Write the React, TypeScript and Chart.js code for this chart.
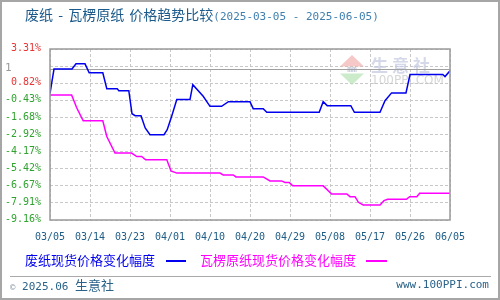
import React, { useEffect, useRef } from 'react';
import { Chart, registerables } from 'chart.js';

Chart.register(...registerables);

// ---- data ----
const xLabels = ['03/05', '03/14', '03/23', '04/01', '04/10', '04/20', '04/29', '05/08', '05/17', '05/26', '06/05'];

// 废纸现货价格变化幅度 (x in index units 0..100, y in %)
const wasteX = [0, 0.4, 1, 5.5, 6.5, 8.75, 9.8, 13.2, 14.2, 16.8, 17.2, 19.7, 20.5, 21.3, 22.75, 23.8, 25, 28.5, 29.3, 30.4, 31.7, 35, 35.7, 38.3, 40, 42.9, 44.6, 50, 50.8, 53.3, 54.2, 67.3, 68.3, 69.3, 75.2, 76.1, 82.5, 83.75, 85.4, 89, 90, 98.2, 98.75, 100];
const wasteY = [0.06, 0.79, 1.85, 1.85, 2.23, 2.23, 1.57, 1.57, 0.42, 0.42, 0.27, 0.27, -1.41, -1.55, -1.55, -2.45, -2.94, -2.94, -2.58, -1.61, -0.38, -0.38, 0.71, -0.14, -0.87, -0.87, -0.53, -0.53, -1.04, -1.04, -1.31, -1.31, -0.53, -0.82, -0.82, -1.31, -1.31, -0.46, 0.11, 0.11, 1.45, 1.45, 1.3, 1.72];

// 瓦楞原纸现货价格变化幅度
const paperX = [0, 5.4, 6.7, 8.3, 13.2, 14.2, 16.25, 20.4, 21.7, 22.9, 23.9, 29.2, 30.25, 31.7, 42.5, 43.3, 45.8, 46.5, 53.3, 55, 57.9, 58.75, 59.8, 60.7, 68.3, 70.4, 74.2, 75, 76.25, 77.1, 78.3, 82.5, 83.5, 84.4, 89.1, 89.9, 91.7, 92.4, 100];
const paperY = [-0.04, -0.04, -0.99, -1.92, -1.92, -3.07, -4.28, -4.28, -4.53, -4.53, -4.77, -4.77, -5.58, -5.74, -5.74, -5.87, -5.87, -6.02, -6.02, -6.31, -6.31, -6.42, -6.42, -6.67, -6.67, -7.26, -7.26, -7.46, -7.46, -7.87, -8.06, -8.06, -7.75, -7.65, -7.65, -7.46, -7.46, -7.21, -7.21];

const yMin = -9.16;
const yMax = 3.31;
const yTickValues = [3.31, 2.06, 0.82, -0.43, -1.68, -2.92, -4.17, -5.42, -6.67, -7.91, -9.16];
const yTickTexts = ['3.31%', '1', '0.82%', '-0.43%', '-1.68%', '-2.92%', '-4.17%', '-5.42%', '-6.67%', '-7.91%', '-9.16%'];
const baseLineValue = 1.87;

const MONO = '"DejaVu Sans Mono", "Liberation Mono", monospace';
const CJK = '"Noto Sans CJK SC", "Noto Sans", sans-serif';

const labelColor = (t: string) => (t.startsWith('-') ? '#2fa32f' : t === '1' ? '#9a9a9a' : '#e83535');

const decor = {
  id: 'decor',
  beforeDatasetsDraw(chart: any) {
    const { ctx, chartArea: a, scales } = chart;
    ctx.save();
    // watermark logo
    ctx.globalAlpha = 0.7;
    ctx.fillStyle = '#f3b0b0';
    ctx.beginPath();
    ctx.moveTo(352, 55); ctx.lineTo(364, 66.5); ctx.lineTo(340, 66.5); ctx.closePath(); ctx.fill();
    ctx.fillStyle = '#b5e3b5';
    ctx.beginPath();
    ctx.moveTo(340, 73.5); ctx.lineTo(364, 73.5); ctx.lineTo(352, 85); ctx.closePath(); ctx.fill();
    ctx.fillStyle = '#a8b0cc';
    ctx.font = 'bold 8px ' + MONO;
    ctx.textAlign = 'center';
    ctx.textBaseline = 'middle';
    ctx.fillText('mm', 352, 70);
    ctx.fillStyle = '#c3c8de';
    ctx.font = 'bold 17px ' + CJK;
    ctx.textAlign = 'left';
    ctx.fillText('生', 371, 66);
    ctx.fillText('意', 392, 66);
    ctx.fillText('社', 413, 66);
    ctx.fillStyle = '#c4c4c4';
    ctx.font = '12px "DejaVu Sans", sans-serif';
    ctx.fillText('100PPI.COM', 371, 81);
    ctx.globalAlpha = 1;
    // solid base line
    const y = Math.round(scales.y.getPixelForValue(baseLineValue)) + 0.5;
    ctx.strokeStyle = '#a0a0a0';
    ctx.lineWidth = 1;
    ctx.beginPath();
    ctx.moveTo(a.left, y);
    ctx.lineTo(a.right, y);
    ctx.stroke();
    ctx.restore();
  },
  afterDraw(chart: any) {
    const { ctx, chartArea: a, scales } = chart;
    ctx.save();
    ctx.strokeStyle = '#9a9a9a';
    ctx.lineWidth = 1.5;
    ctx.strokeRect(a.left, a.top, a.right - a.left, a.bottom - a.top);
    // y-axis labels
    ctx.textBaseline = 'middle';
    yTickValues.forEach((v, i) => {
      const t = yTickTexts[i];
      ctx.fillStyle = labelColor(t);
      if (t === '1') {
        ctx.font = '11px ' + MONO;
        ctx.textAlign = 'left';
        ctx.fillText(t, 5, scales.y.getPixelForValue(baseLineValue) - 1);
      } else {
        ctx.font = '10px ' + MONO;
        ctx.textAlign = 'right';
        ctx.fillText(t, a.left - 9, scales.y.getPixelForValue(v) - 0.5);
      }
    });
    ctx.restore();
  },
};

export default function App() {
  const ref = useRef<HTMLCanvasElement>(null);

  useEffect(() => {
    document.body.style.margin = '0';
    const canvas = ref.current;
    if (!canvas) return;
    const chart = new Chart(canvas, {
      type: 'line',
      data: {
        datasets: [
          {
            label: '废纸现货价格变化幅度',
            data: wasteX.map((x, i) => ({ x, y: wasteY[i] })),
            borderColor: '#0000ee',
            borderWidth: 1.5,
            pointRadius: 0,
            tension: 0,
            fill: false,
          },
          {
            label: '瓦楞原纸现货价格变化幅度',
            data: paperX.map((x, i) => ({ x, y: paperY[i] })),
            borderColor: '#ff00ff',
            borderWidth: 1.5,
            pointRadius: 0,
            tension: 0,
            fill: false,
          },
        ],
      },
      options: {
        animation: false,
        responsive: false,
        events: [],
        layout: { padding: { left: 0, right: 50, top: 49, bottom: 0 } },
        plugins: {
          legend: { display: false },
          title: { display: false },
          tooltip: { enabled: false },
        },
        scales: {
          x: {
            type: 'linear',
            min: 0,
            max: 100,
            afterBuildTicks: (s: any) => {
              s.ticks = xLabels.map((_, i) => ({ value: i * 10 }));
            },
            afterFit: (s: any) => {
              s.height = 80;
            },
            ticks: {
              autoSkip: false,
              maxRotation: 0,
              padding: 11,
              color: '#1d5c85',
              font: { family: MONO, size: 10 },
              callback: (v: any) => xLabels[Math.round(Number(v) / 10)] ?? '',
            },
            grid: { color: '#c8c8c8', drawTicks: false, lineWidth: 1 },
            border: { display: false, dash: [3, 2] },
          },
          y: {
            type: 'linear',
            min: yMin,
            max: yMax,
            afterBuildTicks: (s: any) => {
              s.ticks = yTickValues.map((v) => ({ value: v }));
            },
            afterFit: (s: any) => {
              s.width = 50;
            },
            ticks: { display: false },
            grid: { color: '#c8c8c8', drawTicks: false, lineWidth: 1 },
            border: { display: false, dash: [3, 2] },
          },
        },
      },
      plugins: [decor],
    } as any);
    return () => chart.destroy();
  }, []);

  const abs: React.CSSProperties = { position: 'absolute', whiteSpace: 'nowrap' };

  return (
    <div style={{ position: 'relative', width: 500, height: 300, background: '#fff', overflow: 'hidden' }}>
      <canvas ref={ref} width={500} height={300} style={{ position: 'absolute', left: 0, top: 0, display: 'block' }} />
      <div style={{ ...abs, left: 25, top: 6, height: 16, lineHeight: '16px' }}>
        <span style={{ fontFamily: CJK, fontSize: 14, color: '#1b5a8a', wordSpacing: 2 }}>废纸 - 瓦楞原纸 价格趋势比较</span>
        <span style={{ fontFamily: MONO, fontSize: 11, color: '#3f7fae' }}>(2025-03-05 - 2025-06-05)</span>
      </div>
      <div style={{ ...abs, left: 25, top: 252, lineHeight: '16px', fontFamily: CJK, fontSize: 13, color: '#0000ee' }}>废纸现货价格变化幅度</div>
      <div style={{ ...abs, left: 166, top: 260, width: 20, height: 1.5, background: '#0000ee' }} />
      <div style={{ ...abs, left: 200, top: 252, lineHeight: '16px', fontFamily: CJK, fontSize: 13, color: '#ff00ff' }}>瓦楞原纸现货价格变化幅度</div>
      <div style={{ ...abs, left: 366, top: 260, width: 21, height: 1.5, background: '#ff00ff' }} />
      <div style={{ ...abs, left: 10, top: 276, width: 481, height: 1, background: '#aaaaaa' }} />
      <div style={{ ...abs, left: 10, top: 277, lineHeight: '16px', color: '#2a6289' }}>
        <span style={{ fontFamily: MONO, fontSize: 9, color: '#8a9aa8' }}>©</span>
        <span style={{ fontFamily: MONO, fontSize: 11 }}> 2025.06 </span>
        <span style={{ fontFamily: CJK, fontSize: 13 }}>生意社</span>
      </div>
      <div style={{ ...abs, right: 11, top: 277, lineHeight: '16px', fontFamily: MONO, fontSize: 11, color: '#2a6289' }}>www.100PPI.com</div>
      <div style={{ position: 'absolute', left: 0, top: 0, width: 500, height: 300, boxSizing: 'border-box', border: '2px solid #a6a6a6', pointerEvents: 'none' }} />
    </div>
  );
}
